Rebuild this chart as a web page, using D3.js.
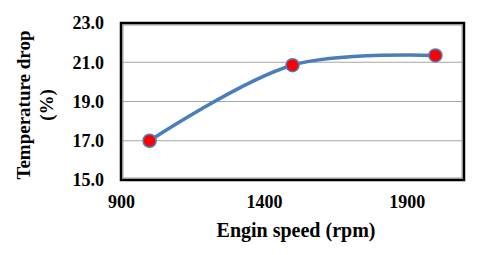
<!DOCTYPE html>
<html><head><meta charset="utf-8">
<script src="https://cdn.jsdelivr.net/npm/d3@7"></script>
<style>body{margin:0;background:#fff;} svg{display:block;}</style>
</head><body>
<svg id="c" width="480" height="255"></svg>
<script>
const speeds = [1000, 1500, 2000];
const tempDrop = [17.0, 20.85, 21.35];
const xTicks = [900, 1400, 1900];
const yTicks = [15, 17, 19, 21, 23];

const svg = d3.select("#c");
const L = 121, R = 464, T = 23, B = 180;
const x = d3.scaleLinear().domain([900, 2100]).range([L, R]);
const y = d3.scaleLinear().domain([15, 23]).range([B, T]);
const font = "'Liberation Serif','Times New Roman',serif";

// gridlines
svg.append("g").selectAll("line").data(yTicks.filter(d => d > 15 && d < 23)).join("line")
  .attr("x1", L).attr("x2", R).attr("y1", d => y(d)).attr("y2", d => y(d))
  .attr("stroke", "#a6a6a6").attr("stroke-width", 1.2);

// frame
svg.append("rect").attr("x", L + 2).attr("y", T + 2).attr("width", R - L - 4).attr("height", B - T - 4)
  .attr("fill", "none").attr("stroke", "#9a9a9a").attr("stroke-width", 1);
svg.append("rect").attr("x", L).attr("y", T).attr("width", R - L).attr("height", B - T)
  .attr("fill", "none").attr("stroke", "#000").attr("stroke-width", 2.5);

// y tick labels
const yAxis = d3.axisLeft(y).tickValues(yTicks).tickFormat(d3.format(".1f")).tickSize(0).tickPadding(17);
const gy = svg.append("g").attr("transform", `translate(${L},0)`).call(yAxis);
gy.select(".domain").remove();
gy.selectAll("text").attr("font-family", font).attr("font-weight", "bold").attr("font-size", 18).attr("fill", "#000");

// x tick labels
const xAxis = d3.axisBottom(x).tickValues(xTicks).tickFormat(d3.format("d")).tickSize(0).tickPadding(15);
const gx = svg.append("g").attr("transform", `translate(0,${B})`).call(xAxis);
gx.select(".domain").remove();
gx.selectAll("text").attr("font-family", font).attr("font-weight", "bold").attr("font-size", 18).attr("fill", "#000");

// line
const pts = speeds.map((s, i) => [s, tempDrop[i]]);
svg.append("path").datum(pts)
  .attr("d", d3.line().x(d => x(d[0])).y(d => y(d[1])).curve(d3.curveCatmullRom.alpha(0.5)))
  .attr("fill", "none").attr("stroke", "#4a7ebb").attr("stroke-width", 3.5);

// markers
svg.append("g").selectAll("circle").data(pts).join("circle")
  .attr("cx", d => x(d[0])).attr("cy", d => y(d[1])).attr("r", 6.5)
  .attr("fill", "#ff0000").attr("stroke", "#4a7ebb").attr("stroke-width", 1.5);

// axis titles
svg.append("text").attr("x", 296).attr("y", 237).attr("text-anchor", "middle")
  .attr("font-family", font).attr("font-weight", "bold").attr("font-size", 20).text("Engin speed (rpm)");
const yt = svg.append("text").attr("transform", "translate(0,105) rotate(-90)").attr("text-anchor", "middle")
  .attr("font-family", font).attr("font-weight", "bold").attr("font-size", 19);
yt.append("tspan").attr("x", 0).attr("y", 30).text("Temperature drop");
yt.append("tspan").attr("x", 0).attr("y", 53).text("(%)");
</script>
</body></html>
